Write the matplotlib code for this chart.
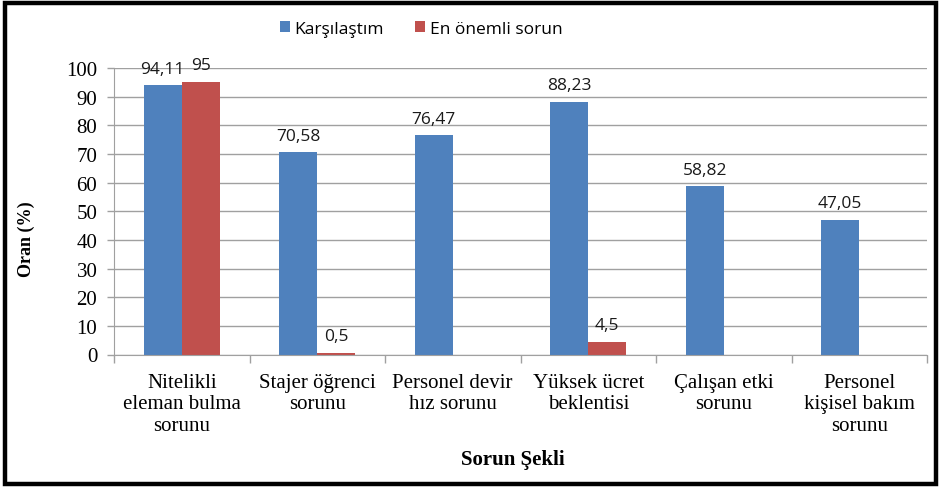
import matplotlib
matplotlib.use("Agg")
import matplotlib.pyplot as plt
import numpy as np
from matplotlib.patches import Rectangle

categories = ["Nitelikli\neleman bulma\nsorunu", "Stajer öğrenci\nsorunu", "Personel devir\nhız sorunu",
              "Yüksek ücret\nbeklentisi", "Çalışan etki\nsorunu", "Personel\nkişisel bakım\nsorunu"]
karsilastim = [94.11, 70.58, 76.47, 88.23, 58.82, 47.05]
en_onemli = [95, 0.5, None, 4.5, None, None]
series_names = ["Karşılaştım", "En önemli sorun"]
yticks = list(range(0, 101, 10))

blue = "#4F81BD"
red = "#C0504D"
serif = ["Liberation Serif", "DejaVu Serif"]
sans = ["Open Sans", "DejaVu Sans"]

fig = plt.figure(figsize=(9.46, 4.89), dpi=100)
ax = fig.add_axes([114/946, 1-355.5/489, (927-114)/946, (355.5-69)/489])

x = np.arange(len(categories))
w = 0.28
ax.bar(x - w/2, karsilastim, w, color=blue, label=series_names[0], zorder=2)
red_vals = [v if v is not None else 0 for v in en_onemli]
ax.bar(x + w/2, red_vals, w, color=red, label=series_names[1], zorder=2)

lab_kw = dict(ha="center", va="baseline", fontsize=12.5, family=sans, color="#1a1a1a")
for xi, v in zip(x, karsilastim):
    ax.text(xi - w/2, v + 4.3, f"{v:.2f}".replace(".", ","), **lab_kw)
for xi, v in zip(x, en_onemli):
    if v is None:
        continue
    ax.text(xi + w/2, v + 4.5, f"{v:g}".replace(".", ","), **lab_kw)

ax.set_xlim(-0.5, len(categories) - 0.5)
ax.set_ylim(0, 100)
ax.set_yticks(yticks)
ax.set_yticklabels([str(t) for t in yticks], family=serif, fontsize=15)
ax.yaxis.grid(True, color="#A0A0A0", linewidth=1.0, zorder=0)
ax.set_axisbelow(True)
ax.set_xticks(x)
ax.set_xticklabels(categories, family=serif, fontsize=15, linespacing=1.2)
ax.tick_params(axis="x", length=0, pad=13)
ax.set_xticks(np.arange(-0.5, len(categories), 1), minor=True)
ax.tick_params(axis="x", which="minor", length=6, color="#A0A0A0", width=1)
ax.tick_params(axis="y", length=5, color="#A0A0A0", width=1, pad=7)
for s in ["top", "right"]:
    ax.spines[s].set_visible(False)
ax.spines["left"].set_color("#A0A0A0")
ax.spines["bottom"].set_color("#A0A0A0")
ax.spines["bottom"].set_zorder(3)

ax.set_ylabel("Oran (%)", family=serif, fontsize=13, fontweight="bold", va="center")
ax.yaxis.set_label_coords((26-114)/813, (355.5-239)/286.5)
ax.set_xlabel("Sorun Şekli", family=serif, fontsize=15, fontweight="bold", va="center")
ax.xaxis.set_label_coords((513-114)/813, -(460-355.5)/286.5)

fig.legend(loc="center", bbox_to_anchor=(421/946, 1-30/489), ncol=2, frameon=False,
           prop={"family": sans, "size": 12.5}, handlelength=0.6, handleheight=0.6,
           handletextpad=0.25, columnspacing=1.8)

fig.patches.append(Rectangle((5/946, 4/489), 931/946, 481/489, transform=fig.transFigure,
                             fill=False, edgecolor="black", linewidth=3.2))

fig.savefig("out.png", dpi=100)
